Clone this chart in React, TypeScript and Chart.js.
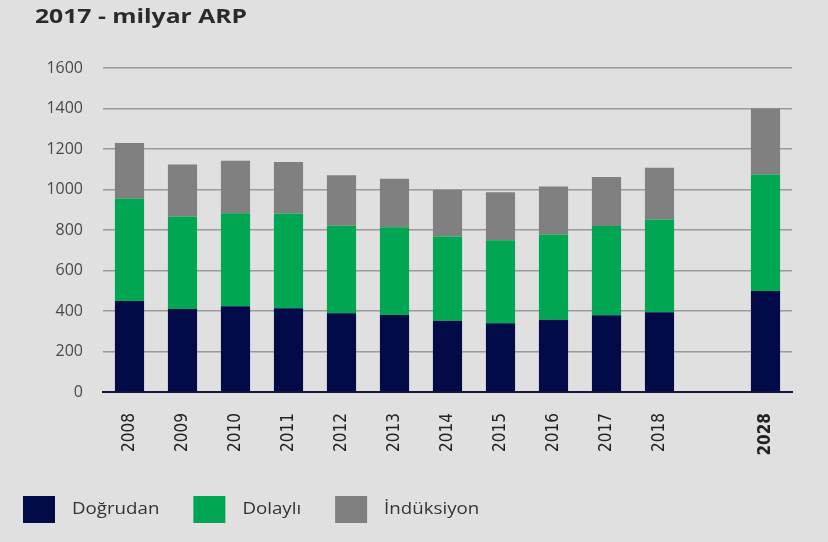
import { useEffect, useRef } from 'react';
import { Chart, registerables } from 'chart.js';

Chart.register(...registerables);

const chartTitle = '2017 - milyar ARP';
const categories = ['2008', '2009', '2010', '2011', '2012', '2013', '2014', '2015', '2016', '2017', '2018', '', '2028'];
const dogrudan = [449, 410, 423, 413, 389, 380, 352, 339, 357, 379, 394, null, 499];
const dolayli = [507, 457, 460, 468, 432, 434, 416, 410, 421, 441, 458, null, 575];
const induksiyon = [274, 257, 259, 255, 249, 239, 230, 238, 237, 242, 256, null, 326];
const seriesNames = ['Doğrudan', 'Dolaylı', 'İndüksiyon'];
const seriesColors = ['#020a48', '#00a651', '#808080'];
const yMin = 0;
const yMax = 1600;
const yStep = 200;

const decorPlugin = {
  id: 'decor',
  afterDraw(chart: any) {
    const ctx = chart.ctx;
    ctx.save();
    ctx.fillStyle = '#2a2a2a';
    ctx.font = 'bold 19px "Open Sans", sans-serif';
    ctx.textBaseline = 'alphabetic';
    ctx.textAlign = 'left';
    ctx.save();
    ctx.translate(35, 23);
    ctx.scale(1.3, 1);
    ctx.fillText(chartTitle, 0, 0);
    ctx.restore();

    let x = 23;
    const sx = 1.1;
    ctx.font = '17px "Open Sans", sans-serif';
    chart.data.datasets.forEach((ds: any) => {
      ctx.fillStyle = ds.backgroundColor;
      ctx.fillRect(x, 496, 32, 27);
      ctx.fillStyle = '#333333';
      ctx.textBaseline = 'middle';
      ctx.save();
      ctx.translate(x + 49, 509);
      ctx.scale(sx, 1);
      ctx.fillText(ds.label, 0, 0);
      ctx.restore();
      x += 49 + ctx.measureText(ds.label).width * sx + 34;
    });
    ctx.restore();
  },
};

export default function App() {
  const canvasRef = useRef<HTMLCanvasElement | null>(null);

  useEffect(() => {
    if (!canvasRef.current) return;
    const seriesData = [dogrudan, dolayli, induksiyon];
    const chart = new Chart(canvasRef.current, {
      type: 'bar',
      data: {
        labels: categories,
        datasets: seriesNames.map((name, i) => ({
          label: name,
          data: seriesData[i],
          backgroundColor: seriesColors[i],
          borderWidth: 0,
          barPercentage: 0.55,
          categoryPercentage: 1,
        })),
      },
      options: {
        animation: false,
        responsive: true,
        maintainAspectRatio: false,
        layout: { padding: { left: 0, top: 68, right: 36, bottom: 80 } },
        plugins: {
          legend: { display: false },
          tooltip: { enabled: false },
          title: { display: false },
        },
        scales: {
          x: {
            stacked: true,
            grid: { display: false },
            border: { display: true, color: '#15183a', width: 2 },
            ticks: {
              minRotation: 90,
              maxRotation: 90,
              autoSkip: false,
              padding: 13,
              color: '#222222',
              font: (c: any) => ({
                family: '"Liberation Sans Narrow", "DejaVu Sans Condensed", sans-serif',
                size: 17,
                weight: c.tick && c.tick.label === '2028' ? 'bold' : 'normal',
              }),
            },
            afterFit: (scale: any) => {
              scale.height = 70;
            },
          },
          y: {
            stacked: true,
            min: yMin,
            max: yMax,
            grid: { color: '#9a9a9a', lineWidth: 1.5, drawTicks: false },
            border: { display: false },
            ticks: {
              stepSize: yStep,
              padding: 20,
              color: '#4a4a4a',
              font: { family: '"Open Sans", sans-serif', size: 16 },
              callback: (v: any) => String(v),
            },
            afterFit: (scale: any) => {
              scale.width = 103;
            },
          },
        },
      },
      plugins: [decorPlugin],
    });
    return () => chart.destroy();
  }, []);

  return (
    <div
      style={{
        position: 'fixed',
        left: 0,
        top: 0,
        width: 828,
        height: 542,
        background: '#e0e0e0',
      }}
    >
      <canvas ref={canvasRef} />
    </div>
  );
}
